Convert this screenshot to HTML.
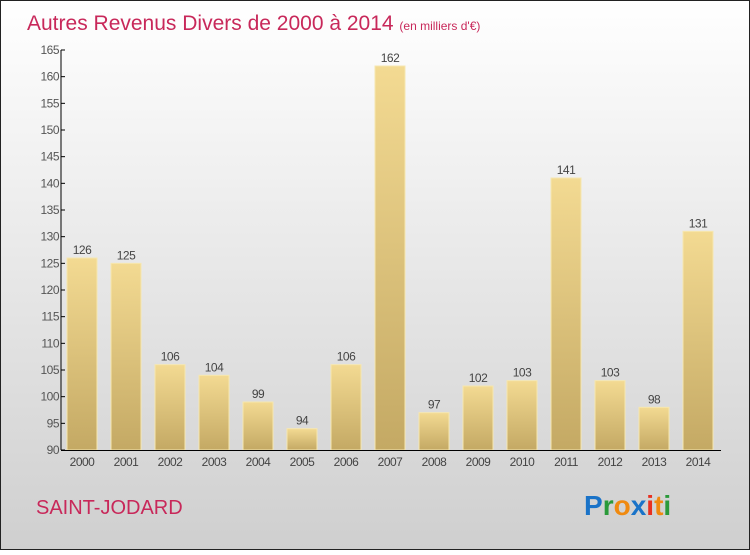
<!DOCTYPE html>
<html><head><meta charset="utf-8"><style>
body{margin:0;width:750px;height:550px;overflow:hidden;font-family:"Liberation Sans",sans-serif}
</style></head><body>
<svg id="c" width="750" height="550" xmlns="http://www.w3.org/2000/svg">
<defs>
<linearGradient id="bg" x1="0" y1="0" x2="0" y2="1"><stop offset="0" stop-color="#ffffff"/><stop offset="1" stop-color="#cfcfcf"/></linearGradient>
<linearGradient id="bar" x1="0" y1="0" x2="0" y2="1"><stop offset="0" stop-color="#f3da92"/><stop offset="1" stop-color="#c4a964"/></linearGradient>
</defs>
<rect x="0.5" y="0.5" width="749" height="549" fill="url(#bg)" stroke="#222"/>
<text x="27" y="30" font-size="21" fill="#c8285a">Autres Revenus Divers de 2000 à 2014 <tspan font-size="12">(en milliers d'€)</tspan></text>
<g id="yaxis"></g>
<g id="bars"></g>
<g id="xaxis"></g>
<text x="36" y="514" font-size="20" fill="#c8285a">SAINT-JODARD</text>
<g font-size="28" font-weight="bold">
<text x="584" y="515" fill="#1a73c8">P<tspan fill="#2a9a3a">r</tspan><tspan fill="#f08a10">o</tspan><tspan fill="#1a73c8">x</tspan><tspan fill="#e83020">i</tspan><tspan fill="#f08a10">t</tspan><tspan fill="#2a9a3a">i</tspan></text>
</g>
</svg>
<script>
const years=["2000","2001","2002","2003","2004","2005","2006","2007","2008","2009","2010","2011","2012","2013","2014"];
const values=[126,125,106,104,99,94,106,162,97,102,103,141,103,98,131];
const yTicks=[90,95,100,105,110,115,120,125,130,135,140,145,150,155,160,165];
const NS="http://www.w3.org/2000/svg";
const y0=450,y1=50,vmin=90,vmax=165;
function y(v){return y0-(v-vmin)/(vmax-vmin)*(y0-y1);}
function x(i){return 82+i*44;}
function mk(t,a,p,txt){const e=document.createElementNS(NS,t);for(const k in a)e.setAttribute(k,a[k]);if(txt!==undefined)e.textContent=txt;p.appendChild(e);return e;}
const ya=document.getElementById('yaxis'),bg=document.getElementById('bars'),xa=document.getElementById('xaxis');
const yl=mk('line',{x1:61,y1:50,x2:61,y2:450,stroke:'#000'},ya);


yTicks.forEach(v=>{
 const t=mk('line',{x1:61,x2:65,y1:y(v),y2:y(v),stroke:'#000'},ya);
 
 
 const l=mk('text',{x:59,y:y(v)+4,'font-size':12,fill:'#555','text-anchor':'end','letter-spacing':'-0.5'},ya,v);
 
 
});
values.forEach((v,i)=>{
 const r=mk('rect',{x:x(i)-15,y:y(v),width:30,height:y0-y(v),fill:'url(#bar)',stroke:'#f6e7b0','stroke-width':1},bg);
 
 
 const l=mk('text',{x:x(i),y:y(v)-4,'font-size':12,fill:'#444','text-anchor':'middle','letter-spacing':'-0.5'},bg,v);
 
 
 const xl=mk('text',{x:x(i),y:466,'font-size':12,fill:'#444','text-anchor':'middle','letter-spacing':'-0.5'},xa,years[i]);
 
 
});
const xl=mk('line',{x1:61,y1:450.5,x2:721,y2:450.5,stroke:'#000'},xa);


</script>
</body></html>
